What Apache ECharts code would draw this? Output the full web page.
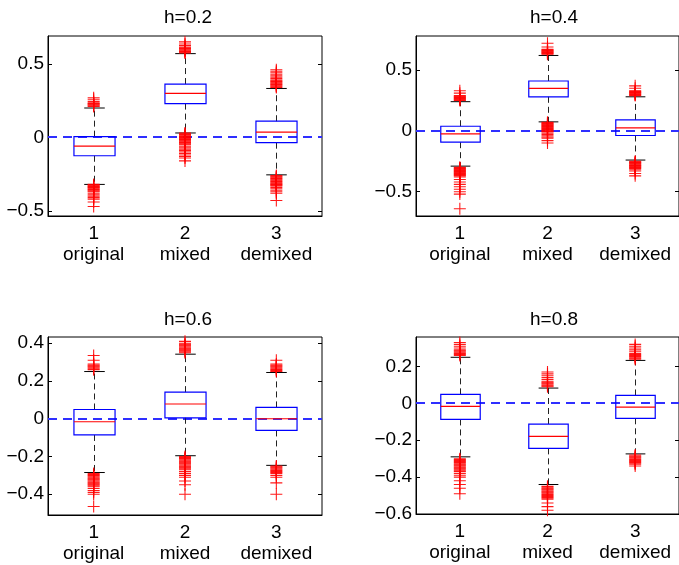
<!DOCTYPE html>
<html>
<head>
<meta charset="utf-8">
<script src="https://cdn.jsdelivr.net/npm/echarts@6/dist/echarts.min.js"></script>
<style>
  html, body { margin: 0; padding: 0; background: #fff; }
  #main { width: 679px; height: 565px; }
</style>
</head>
<body>
<div id="main"></div>
<script>
var categories = ['original', 'mixed', 'demixed'];
var panelTitles = ['h=0.2', 'h=0.4', 'h=0.6', 'h=0.8'];

// [lower whisker, q1, median, q3, upper whisker] per box
var stats02 = [[-0.32, -0.125, -0.06, 0.005, 0.20], [0.03, 0.23, 0.30, 0.363, 0.57], [-0.255, -0.036, 0.036, 0.11, 0.333]];
var stats04 = [[-0.29, -0.093, -0.025, 0.038, 0.24], [0.074, 0.28, 0.35, 0.41, 0.62], [-0.24, -0.038, 0.025, 0.09, 0.28]];
var stats06 = [[-0.285, -0.086, -0.016, 0.049, 0.25], [-0.196, 0.005, 0.078, 0.141, 0.342], [-0.247, -0.062, 0.0, 0.06, 0.245]];
var stats08 = [[-0.29, -0.087, -0.016, 0.049, 0.25], [-0.44, -0.244, -0.179, -0.112, 0.083], [-0.274, -0.081, -0.02, 0.043, 0.233]];

// outliers per box (original, mixed, demixed)
var out02 = [
  [0.21, 0.215, 0.22, 0.225, 0.23, 0.235, 0.245, 0.26, 0.27,
   -0.32, -0.325, -0.33, -0.335, -0.34, -0.345, -0.35, -0.355, -0.36, -0.365, -0.37, -0.38, -0.39, -0.40, -0.41, -0.42, -0.44, -0.47],
  [0.575, 0.58, 0.585, 0.59, 0.595, 0.60, 0.605, 0.61, 0.615, 0.625, 0.635, 0.65,
   0.03, 0.025, 0.02, 0.015, 0.01, 0.005, 0, -0.005, -0.01, -0.015, -0.02, -0.025, -0.03, -0.035, -0.04, -0.045, -0.05,
   -0.06, -0.07, -0.08, -0.09, -0.10, -0.11, -0.12, -0.13, -0.14, -0.16],
  [0.34, 0.345, 0.35, 0.355, 0.36, 0.365, 0.37, 0.375, 0.38, 0.385, 0.39, 0.40, 0.41, 0.42, 0.43, 0.44, 0.45, 0.46,
   -0.26, -0.265, -0.27, -0.275, -0.28, -0.285, -0.29, -0.295, -0.30, -0.305, -0.31, -0.315, -0.32, -0.325, -0.33,
   -0.34, -0.35, -0.36, -0.37, -0.38, -0.43]
];
var out04 = [
  [0.25, 0.255, 0.26, 0.265, 0.27, 0.275, 0.28, 0.285, 0.29, 0.31, 0.33,
   -0.30, -0.305, -0.31, -0.315, -0.32, -0.325, -0.33, -0.335, -0.34, -0.345, -0.35, -0.355, -0.36, -0.365, -0.37,
   -0.38, -0.40, -0.42, -0.44, -0.46, -0.48, -0.50, -0.52, -0.64],
  [0.63, 0.635, 0.64, 0.645, 0.65, 0.655, 0.66, 0.665, 0.67, 0.69, 0.72,
   0.07, 0.065, 0.06, 0.055, 0.05, 0.045, 0.04, 0.035, 0.03, 0.025, 0.02, 0.015, 0.01, 0.005, 0, -0.005, -0.01,
   -0.02, -0.03, -0.04, -0.05, -0.06, -0.08, -0.10],
  [0.29, 0.295, 0.30, 0.305, 0.31, 0.315, 0.32, 0.325, 0.33, 0.35, 0.37,
   -0.25, -0.255, -0.26, -0.265, -0.27, -0.275, -0.28, -0.285, -0.29, -0.295, -0.30, -0.305, -0.31,
   -0.32, -0.33, -0.35, -0.37]
];
var out06 = [
  [0.26, 0.265, 0.27, 0.275, 0.28, 0.285, 0.29, 0.31, 0.335,
   -0.29, -0.295, -0.30, -0.305, -0.31, -0.315, -0.32, -0.325, -0.33, -0.335, -0.34, -0.345, -0.35, -0.355, -0.36,
   -0.37, -0.38, -0.39, -0.40, -0.465],
  [0.35, 0.355, 0.36, 0.365, 0.37, 0.375, 0.38, 0.385, 0.39, 0.395, 0.40, 0.41,
   -0.20, -0.205, -0.21, -0.215, -0.22, -0.225, -0.23, -0.235, -0.24, -0.245, -0.25, -0.255, -0.26, -0.265, -0.27,
   -0.28, -0.29, -0.30, -0.31, -0.33, -0.35, -0.40],
  [0.25, 0.255, 0.26, 0.265, 0.27, 0.275, 0.28, 0.285, 0.29, 0.31,
   -0.25, -0.255, -0.26, -0.265, -0.27, -0.275, -0.28, -0.285, -0.29, -0.30, -0.31, -0.34, -0.40]
];
var out08 = [
  [0.26, 0.265, 0.27, 0.275, 0.28, 0.285, 0.29, 0.30, 0.31, 0.32, 0.33,
   -0.30, -0.305, -0.31, -0.315, -0.32, -0.325, -0.33, -0.335, -0.34, -0.345, -0.35, -0.355, -0.36, -0.365, -0.37,
   -0.38, -0.39, -0.40, -0.42, -0.44, -0.46, -0.49],
  [0.09, 0.095, 0.10, 0.105, 0.11, 0.115, 0.12, 0.13, 0.14, 0.15, 0.16, 0.17,
   -0.45, -0.455, -0.46, -0.465, -0.47, -0.475, -0.48, -0.485, -0.49, -0.495, -0.50, -0.505, -0.51, -0.515, -0.52,
   -0.54, -0.56, -0.58],
  [0.24, 0.245, 0.25, 0.255, 0.26, 0.265, 0.27, 0.28, 0.29, 0.30, 0.31, 0.32,
   -0.28, -0.285, -0.29, -0.295, -0.30, -0.305, -0.31, -0.315, -0.32, -0.325, -0.33, -0.34]
];

var refLevel = 0;
var yRanges = [[-0.535, 0.69], [-0.70, 0.78], [-0.51, 0.433], [-0.60, 0.36]];
var yTicks = [[-0.5, 0, 0.5], [-0.5, 0, 0.5], [-0.4, -0.2, 0, 0.2, 0.4], [-0.6, -0.4, -0.2, 0, 0.2]];

var allStats = [stats02, stats04, stats06, stats08];
var allOut = [out02, out04, out06, out08];

var grids = [
  {left: 48, top: 36, width: 274, height: 180},
  {left: 416, top: 36, width: 268, height: 180},
  {left: 48, top: 337, width: 274, height: 178},
  {left: 416, top: 337, width: 268, height: 177}
];

var FONT = 'Liberation Sans, Arial, Helvetica, sans-serif';
var FS = 19;
var plusPath = 'path://M0,4.55H10V5.45H0Z M4.55,0H5.45V10H4.55Z';

function fmt(v) {
  return String(v).replace('-', '\u2212');
}

function renderBox(params, api) {
  var x = api.value(0);
  var lo = api.coord([x, api.value(1)]);
  var q1 = api.coord([x, api.value(2)]);
  var med = api.coord([x, api.value(3)]);
  var q3 = api.coord([x, api.value(4)]);
  var hi = api.coord([x, api.value(5)]);
  var band = api.size([1, 0])[0];
  var bw = band * 0.45;
  var cw = bw * 0.5;
  var cx = Math.round(lo[0]) + 0.5;
  var dash = {stroke: '#222', lineWidth: 1, lineDash: [6, 4]};
  var solid = {stroke: '#000', lineWidth: 1};
  return {
    type: 'group',
    children: [
      {type: 'line', shape: {x1: cx, y1: q3[1], x2: cx, y2: hi[1]}, style: dash},
      {type: 'line', shape: {x1: cx, y1: q1[1], x2: cx, y2: lo[1]}, style: dash},
      {type: 'line', shape: {x1: cx - cw / 2, y1: hi[1], x2: cx + cw / 2, y2: hi[1]}, style: solid},
      {type: 'line', shape: {x1: cx - cw / 2, y1: lo[1], x2: cx + cw / 2, y2: lo[1]}, style: solid},
      {type: 'rect', shape: {x: cx - bw / 2, y: q3[1], width: bw, height: q1[1] - q3[1]},
        style: {fill: 'none', stroke: '#0000ff', lineWidth: 1.2}},
      {type: 'line', shape: {x1: cx - bw / 2, y1: med[1], x2: cx + bw / 2, y2: med[1]},
        style: {stroke: '#ff0000', lineWidth: 1.2}}
    ]
  };
}

// dashed reference line across the whole plot box
function renderRef(params, api) {
  var cs = params.coordSys;
  var y = Math.round(api.coord([0, api.value(0)])[1]);
  return {
    type: 'line',
    shape: {x1: cs.x, y1: y, x2: cs.x + cs.width, y2: y},
    style: {stroke: '#2f2fff', lineWidth: 2, lineDash: [9, 6]}
  };
}

var option = {
  animation: false,
  backgroundColor: '#fff',
  title: [],
  grid: [],
  xAxis: [],
  yAxis: [],
  series: []
};

grids.forEach(function (g, i) {
  option.title.push({
    text: panelTitles[i],
    left: g.left + g.width / 2 - (i % 2 === 1 ? 1 : 2),
    top: i < 2 ? 3 : 305,
    textAlign: 'center',
    textStyle: {fontFamily: FONT, fontSize: FS, fontWeight: 'normal', color: '#000'}
  });
  option.grid.push({
    left: g.left, top: g.top, width: g.width, height: g.height,
    show: true, borderColor: '#000', borderWidth: 1, backgroundColor: 'transparent'
  });
  option.xAxis.push({
    type: 'category',
    gridIndex: i,
    data: categories,
    boundaryGap: true,
    axisLine: {show: true, onZero: false, lineStyle: {color: '#000', width: 1}},
    axisTick: {show: false},
    axisLabel: {
      interval: 0,
      hideOverlap: false,
      margin: 7,
      fontFamily: FONT, fontSize: FS, color: '#000', lineHeight: 21,
      formatter: function (v, idx) { return (idx + 1) + '\n' + v; }
    },
    splitLine: {show: false}
  });
  option.yAxis.push({
    type: 'value',
    gridIndex: i,
    min: yRanges[i][0],
    max: yRanges[i][1],
    axisLine: {show: true, lineStyle: {color: '#000', width: 1}},
    axisTick: {show: true, inside: true, length: 4, customValues: yTicks[i], lineStyle: {color: '#000'}},
    axisLabel: {
      margin: 4, customValues: yTicks[i],
      fontFamily: FONT, fontSize: FS, color: '#000',
      formatter: fmt
    },
    splitLine: {show: false}
  });
  option.yAxis.push({
    type: 'value',
    gridIndex: i,
    position: 'right',
    min: yRanges[i][0],
    max: yRanges[i][1],
    axisLine: {show: false},
    axisTick: {show: true, inside: true, length: 4, customValues: yTicks[i], lineStyle: {color: '#000'}},
    axisLabel: {show: false},
    splitLine: {show: false}
  });

  var boxData = allStats[i].map(function (s, k) {
    return [k, s[0], s[1], s[2], s[3], s[4]];
  });
  var outData = [];
  allOut[i].forEach(function (arr, k) {
    arr.forEach(function (v) { outData.push([k, v]); });
  });

  option.series.push({
    type: 'custom',
    xAxisIndex: i,
    yAxisIndex: i * 2,
    renderItem: renderRef,
    encode: {y: 0},
    data: [[refLevel]],
    z: 1,
    silent: true
  });
  option.series.push({
    type: 'custom',
    xAxisIndex: i,
    yAxisIndex: i * 2,
    renderItem: renderBox,
    encode: {x: 0, y: [1, 2, 3, 4, 5]},
    data: boxData,
    z: 3,
    silent: true
  });
  option.series.push({
    type: 'scatter',
    xAxisIndex: i,
    yAxisIndex: i * 2,
    symbol: plusPath,
    symbolSize: 12,
    itemStyle: {color: '#ff0000', opacity: 0.9},
    data: outData,
    z: 4,
    silent: true
  });
});

var chart = echarts.init(document.getElementById('main'));
chart.setOption(option);
</script>
</body>
</html>
